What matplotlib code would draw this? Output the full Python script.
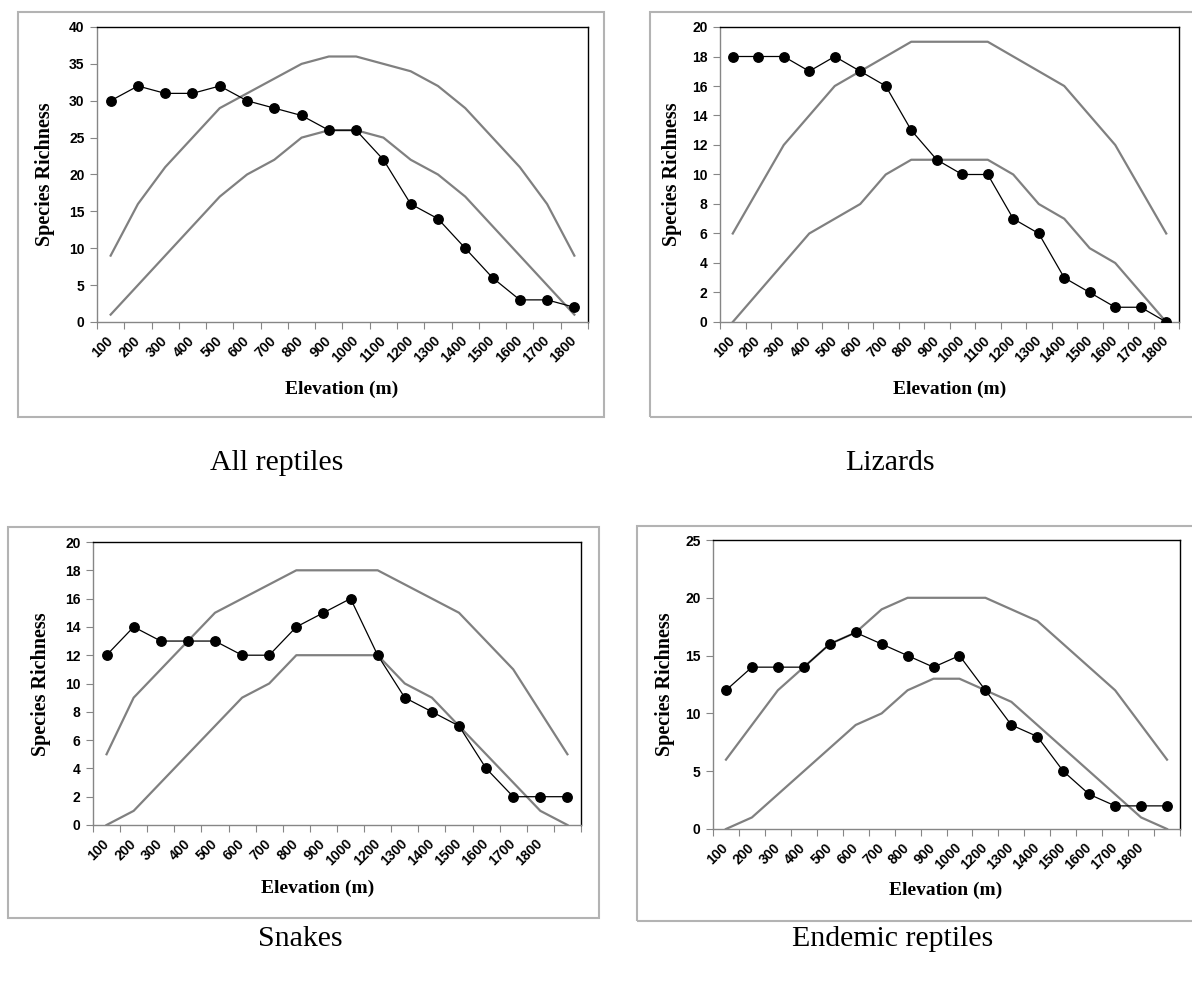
import matplotlib
matplotlib.use("Agg")
import matplotlib.pyplot as plt
from matplotlib.patches import Rectangle
import numpy as np

# ---------------- data ----------------
elev_labels_a = ["100", "200", "300", "400", "500", "600", "700", "800", "900",
                 "1000", "1100", "1200", "1300", "1400", "1500", "1600", "1700", "1800"]
elev_labels_b = ["100", "200", "300", "400", "500", "600", "700", "800", "900",
                 "1000", "1200", "1300", "1400", "1500", "1600", "1700", "1800", ""]

all_obs = [30, 32, 31, 31, 32, 30, 29, 28, 26, 26, 22, 16, 14, 10, 6, 3, 3, 2]
all_upper = [9, 16, 21, 25, 29, 31, 33, 35, 36, 36, 35, 34, 32, 29, 25, 21, 16, 9]
all_lower = [1, 5, 9, 13, 17, 20, 22, 25, 26, 26, 25, 22, 20, 17, 13, 9, 5, 1]

liz_obs = [18, 18, 18, 17, 18, 17, 16, 13, 11, 10, 10, 7, 6, 3, 2, 1, 1, 0]
liz_upper = [6, 9, 12, 14, 16, 17, 18, 19, 19, 19, 19, 18, 17, 16, 14, 12, 9, 6]
liz_lower = [0, 2, 4, 6, 7, 8, 10, 11, 11, 11, 11, 10, 8, 7, 5, 4, 2, 0]

snk_obs = [12, 14, 13, 13, 13, 12, 12, 14, 15, 16, 12, 9, 8, 7, 4, 2, 2, 2]
snk_upper = [5, 9, 11, 13, 15, 16, 17, 18, 18, 18, 18, 17, 16, 15, 13, 11, 8, 5]
snk_lower = [0, 1, 3, 5, 7, 9, 10, 12, 12, 12, 12, 10, 9, 7, 5, 3, 1, 0]

end_obs = [12, 14, 14, 14, 16, 17, 16, 15, 14, 15, 12, 9, 8, 5, 3, 2, 2, 2]
end_upper = [6, 9, 12, 14, 16, 17, 19, 20, 20, 20, 20, 19, 18, 16, 14, 12, 9, 6]
end_lower = [0, 1, 3, 5, 7, 9, 10, 12, 13, 13, 12, 11, 9, 7, 5, 3, 1, 0]

captions = ["All reptiles", "Lizards", "Snakes", "Endemic reptiles"]

# ---------------- layout ----------------
W, H = 1192, 981
fig = plt.figure(figsize=(W / 100, H / 100), dpi=100)

def frac_rect(l, t, r, b):
    return [l / W, 1 - b / H, (r - l) / W, (b - t) / H]

panels = [
    dict(obs=all_obs, up=all_upper, lo=all_lower, labels=elev_labels_a, ymax=40, ystep=5,
         axes=(97, 27, 588, 322), box=(18, 12, 604, 417),
         ylab=(45, 174), xlab=(342, 389), cap=(277, 463)),
    dict(obs=liz_obs, up=liz_upper, lo=liz_lower, labels=elev_labels_a, ymax=20, ystep=2,
         axes=(720, 27, 1179, 322), box=(650, 12, 1205, 417),
         ylab=(672, 174), xlab=(950, 389), cap=(890, 463)),
    dict(obs=snk_obs, up=snk_upper, lo=snk_lower, labels=elev_labels_b, ymax=20, ystep=2,
         axes=(93, 542, 581, 825), box=(8, 527, 599, 918),
         ylab=(41, 684), xlab=(318, 888), cap=(300, 939)),
    dict(obs=end_obs, up=end_upper, lo=end_lower, labels=elev_labels_b, ymax=25, ystep=5,
         axes=(713, 540, 1180, 829), box=(637, 526, 1205, 921),
         ylab=(665, 684), xlab=(946, 890), cap=(893, 939)),
]

gray_line = "#808080"
axis_gray = "#868686"
box_gray = "#b3b3b3"
tick_font = dict(family="Liberation Sans", weight="bold", size=10)
serif = "Liberation Serif"

for p, cap in zip(panels, captions):
    l, t, r, b = p["box"]
    fig.patches.append(Rectangle((l / W, 1 - b / H), (r - l) / W, (b - t) / H,
                                 transform=fig.transFigure, fill=False,
                                 edgecolor=box_gray, linewidth=1.5, clip_on=False))
    ax = fig.add_axes(frac_rect(*p["axes"]))
    x = np.arange(len(p["obs"]))
    ax.plot(x, p["up"], color=gray_line, lw=1.6, zorder=2)
    ax.plot(x, p["lo"], color=gray_line, lw=1.6, zorder=2)
    ax.plot(x, p["obs"], color="black", lw=0.9, marker="o", markersize=6.8,
            markerfacecolor="black", markeredgecolor="black", zorder=3)
    ax.set_xlim(-0.5, len(x) - 0.5)
    ax.set_ylim(0, p["ymax"])
    yt = np.arange(0, p["ymax"] + 0.1, p["ystep"])
    ax.set_yticks(yt)
    ax.set_yticklabels([str(int(v)) for v in yt], fontdict=tick_font)
    ax.set_xticks(np.arange(-0.5, len(x), 1.0))
    ax.set_xticklabels([])
    ax.set_xticks(x, minor=True)
    ax.set_xticklabels(p["labels"], minor=True, rotation=45, ha="right", va="center",
                       rotation_mode="anchor", fontdict=tick_font)
    ax.tick_params(axis="x", which="minor", length=0, pad=12)
    ax.tick_params(axis="x", which="major", length=5, color=axis_gray, direction="out")
    ax.tick_params(axis="y", which="major", length=5, color=axis_gray, direction="out", pad=4)
    ax.spines["top"].set_color("black")
    ax.spines["right"].set_color("black")
    ax.spines["left"].set_color(axis_gray)
    ax.spines["bottom"].set_color(axis_gray)
    for s in ax.spines.values():
        s.set_linewidth(1.0)
    # axis titles
    fig.text(p["ylab"][0] / W, 1 - p["ylab"][1] / H, "Species Richness", rotation=90,
             ha="center", va="center", family=serif, weight="bold", fontsize=14.5)
    fig.text(p["xlab"][0] / W, 1 - p["xlab"][1] / H, "Elevation (m)",
             ha="center", va="center", family=serif, weight="bold", fontsize=14)
    fig.text(p["cap"][0] / W, 1 - p["cap"][1] / H, cap,
             ha="center", va="center", family=serif, fontsize=21.5)

fig.savefig("out.png", dpi=100)
